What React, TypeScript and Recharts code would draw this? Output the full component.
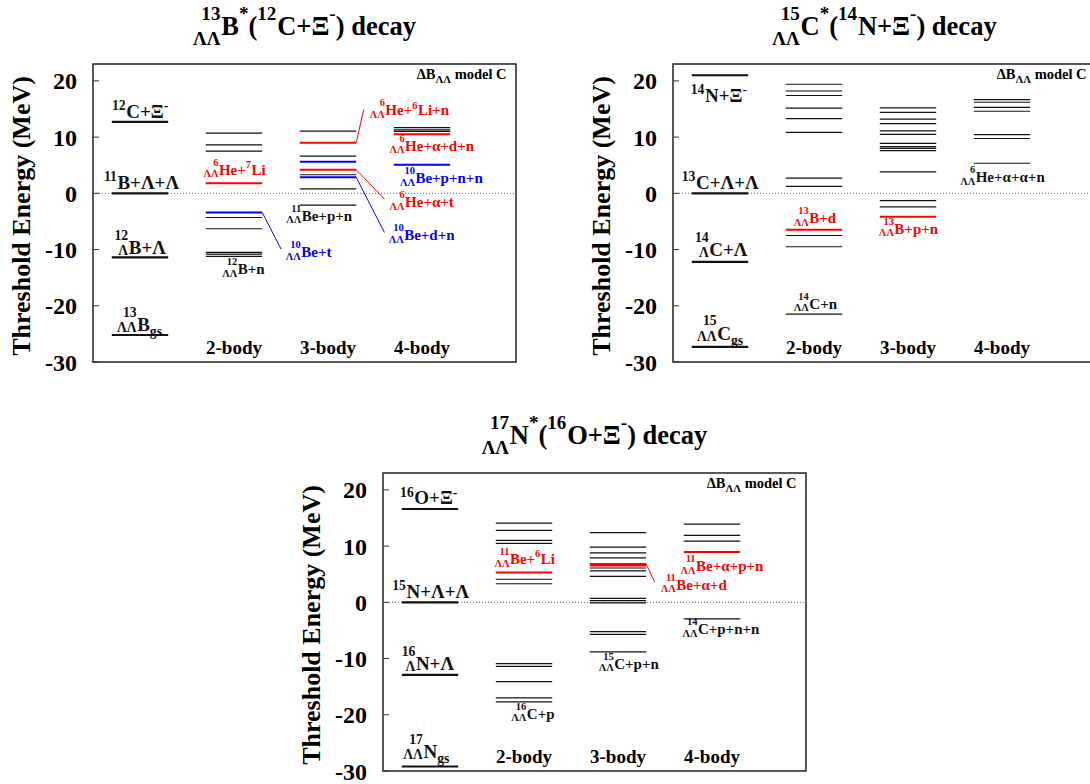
import React from "react";
import { ComposedChart, XAxis, YAxis, Scatter, ReferenceLine, ReferenceArea, ReferenceDot } from "recharts";

const FONT = '"Liberation Serif", "Times New Roman", Times, serif';
const TONE: Record<string, string> = { k: "#111111", r: "#ff0000", b: "#0000ff" };

const COLUMNS = ["2-body", "3-body", "4-body"];
const Y_TICKS = [-30, -20, -10, 0, 10, 20];
const Y_DOMAIN = [-30, 23];
const X_DOMAIN = [0, 4.5];
const Y_TITLE = "Threshold Energy (MeV)";
const MODEL_NOTE = "ΔB_{ΛΛ} model C";

// 13ΛΛB* (12C + Ξ-)
const B_TITLE = "[13|ΛΛ]B^{*}([12|]C+Ξ^{-}) decay";
const B_THRESH = [12.7, 0, -11.4, -25.2];
const B_TWO_K = [10.7, 8.6, 7.5, -4.3, -6.3, -10.5, -10.8, -11.2];
const B_TWO_R = [1.8];
const B_TWO_B = [-3.4];
const B_THREE_K = [11.05, 6.6, 3.3, 0.8, -2.1];
const B_THREE_R = [9.0, 4.2];
const B_THREE_B = [5.6, 2.85];
const B_FOUR_K = [11.7, 11.3, 11.0];
const B_FOUR_R = [10.5];
const B_FOUR_B = [5.1];
const B_THRESH_LABELS = [
  ["[12|]C+Ξ^{-}", 0.354, 13.4],
  ["[11|]B+Λ+Λ", 0.26, 0.8],
  ["[12|Λ]B+Λ", 0.38, -10.8],
  ["[13|ΛΛ]B_{gs}", 0.47, -24.5],
];
const B_LABELS = [
  ["[6|ΛΛ]He+[7|]Li", 1.34, 3.3, "r"],
  ["[12|ΛΛ]B+n", 1.54, -14.4, "k"],
  ["[10|ΛΛ]Be+t", 2.216, -11.4, "b"],
  ["[11|ΛΛ]Be+p+n", 2.22, -4.9, "k"],
  ["[6|ΛΛ]He+[6|]Li+n", 3.11, 13.85, "r"],
  ["[6|ΛΛ]He+α+d+n", 3.32, 7.6, "r"],
  ["[10|ΛΛ]Be+p+n+n", 3.43, 1.8, "b"],
  ["[6|ΛΛ]He+α+t", 3.32, -2.5, "r"],
  ["[10|ΛΛ]Be+d+n", 3.31, -8.3, "b"],
];
const B_LINKS = [
  [1.8, B_TWO_B[0], 2.0, -9.9, "b"],
  [2.8, B_THREE_R[0], 2.88, 14.9, "r"],
  [2.8, B_THREE_R[1], 3.1, -1.0, "r"],
  [2.8, B_THREE_B[1], 3.1, -6.95, "b"],
];

// 15ΛΛC* (14N + Ξ-)
const C_TITLE = "[15|ΛΛ]C^{*}([14|]N+Ξ^{-}) decay";
const C_THRESH = [21.0, 0, -12.2, -27.3];
const C_TWO_K = [19.4, 18.2, 17.4, 15.15, 13.3, 10.85, 2.7, 1.25, -7.5, -9.5, -21.5];
const C_TWO_R = [-6.5];
const C_THREE_K = [15.2, 14.4, 13.2, 12.4, 11.1, 10.5, 8.9, 8.3, 8.0, 7.6, 3.8, -1.3, -2.4];
const C_THREE_R = [-4.15];
const C_FOUR_K = [16.65, 16.2, 15.3, 14.6, 10.45, 9.75, 5.35];
const C_THRESH_LABELS = [
  ["[14|]N+Ξ^{-}", 0.34, 16.3],
  ["[13|]C+Λ+Λ", 0.245, 0.8],
  ["[14|Λ]C+Λ", 0.386, -11.1],
  ["[15|ΛΛ]C_{gs}", 0.47, -26.0],
];
const C_LABELS = [
  ["[13|ΛΛ]B+d", 1.45, -5.3, "r"],
  ["[14|ΛΛ]C+n", 1.45, -20.5, "k"],
  ["[13|ΛΛ]B+p+n", 2.355, -7.2, "r"],
  ["[6|ΛΛ]He+α+α+n", 3.22, 1.95, "k"],
];

// 17ΛΛN* (16O + Ξ-)
const N_TITLE = "[17|ΛΛ]N^{*}([16|]O+Ξ^{-}) decay";
const N_THRESH = [16.6, 0, -12.9, -29.2];
const N_TWO_K = [14.1, 12.8, 11.0, 10.5, 4.1, 3.3, -10.9, -11.4, -14.1, -17.0, -17.7];
const N_TWO_R = [5.3];
const N_THREE_K = [12.4, 9.8, 8.8, 7.9, 6.1, 5.6, 4.6, 0.7, 0.3, -0.1, -5.2, -5.7, -8.8];
const N_THREE_R = [6.8, 6.55];
const N_FOUR_K = [13.9, 11.9, 10.9, -2.95];
const N_FOUR_R = [8.95];
const N_THRESH_LABELS = [
  ["[16|]O+Ξ^{-}", 0.333, 17.4],
  ["[15|]N+Λ+Λ", 0.25, 0.77],
  ["[16|Λ]N+Λ", 0.35, -12.0],
  ["[17|ΛΛ]N_{gs}", 0.43, -27.7],
];
const N_LABELS = [
  ["[11|ΛΛ]Be+[6|]Li", 1.35, 6.8, "r"],
  ["[16|ΛΛ]C+p", 1.53, -20.7, "k"],
  ["[15|ΛΛ]C+p+n", 2.46, -11.8, "k"],
  ["[11|ΛΛ]Be+α+d", 3.12, 2.25, "r"],
  ["[11|ΛΛ]Be+α+p+n", 3.33, 5.5, "r"],
  ["[14|ΛΛ]C+p+n+n", 3.35, -5.7, "k"],
];
const N_LINKS = [[2.8, N_THREE_R[0], 2.89, 3.6, "r"]];

let measureCtx: CanvasRenderingContext2D | null = null;
function textWidth(s: string, size: number) {
  if (!measureCtx) measureCtx = document.createElement("canvas").getContext("2d");
  if (!measureCtx) return s.length * size * 0.5;
  measureCtx.font = `bold ${size}px ${FONT}`;
  return measureCtx.measureText(s).width;
}

// [sup|sub] = prescripts, ^{..} = superscript, _{..} = subscript
function parse(m: string) {
  const out: any[] = [];
  let buf = "";
  let i = 0;
  const flush = () => {
    if (buf) out.push({ kind: "text", a: buf });
    buf = "";
  };
  while (i < m.length) {
    const c = m[i];
    if (c === "[") {
      flush();
      const j = m.indexOf("]", i);
      const [a, b] = m.slice(i + 1, j).split("|");
      out.push({ kind: "pre", a, b });
      i = j + 1;
    } else if ((c === "^" || c === "_") && m[i + 1] === "{") {
      flush();
      const j = m.indexOf("}", i);
      out.push({ kind: c === "^" ? "sup" : "sub", a: m.slice(i + 2, j) });
      i = j + 1;
    } else {
      buf += c;
      i++;
    }
  }
  flush();
  return out;
}

const SMALL = { sc: 0.7, hi: 0.6, lone: 0.45, lo: 0.17 };
const BIG = { sc: 0.72, hi: 0.74, lone: 0.4, lo: 0.06 };
const TITLE = { sc: 0.72, hi: 0.56, lone: 0.56, lo: 0.36 };

function RichText({ x, y, markup, size, color, align = "main", st = SMALL }: any) {
  const s = size * st.sc;
  const items: any[] = [];
  let cur = 0;
  let lead: number | null = null;
  for (const p of parse(markup)) {
    if (p.kind === "text") {
      if (lead === null) lead = cur;
      items.push({ t: p.a, x: cur, dy: 0, fs: size });
      cur += textWidth(p.a, size);
    } else if (p.kind === "pre") {
      const wa = p.a ? textWidth(p.a, s) : 0;
      const wb = p.b ? textWidth(p.b, s) : 0;
      const w = Math.max(wa, wb);
      if (p.a) items.push({ t: p.a, x: cur + w - wa, dy: -(p.b ? st.hi : st.lone) * size, fs: s });
      if (p.b) items.push({ t: p.b, x: cur + w - wb, dy: st.lo * size, fs: s });
      cur += w + 0.03 * size;
    } else {
      items.push({ t: p.a, x: cur, dy: (p.kind === "sup" ? -st.lone : 0.28) * size, fs: s });
      cur += textWidth(p.a, s);
    }
  }
  const shift = align === "middle" ? -cur / 2 : align === "end" ? -cur : -(lead ?? 0);
  return (
    <g>
      {items.map((it, k) => (
        <text
          key={k}
          x={x + shift + it.x}
          y={y + it.dy}
          fontSize={it.fs}
          fontWeight="bold"
          fontFamily={FONT}
          fill={color}
          style={{ whiteSpace: "pre" }}
        >
          {it.t}
        </text>
      ))}
    </g>
  );
}

const W = 545;
const H = 380;
const PLOT_LEFT = 93;

function Panel({ left, top, title, thresholds, thresholdLabels, groups, labels, links }: any) {
  const segs: any[] = [];
  thresholds.forEach((v: number, i: number) =>
    segs.push({ key: `t${i}`, col: 0, v, color: TONE.k, w: 2.2 })
  );
  groups.forEach(([col, values, tone]: any, g: number) =>
    values.forEach((v: number, i: number) =>
      segs.push({ key: `g${g}-${i}`, col, v, color: TONE[tone], w: tone === "k" ? 1.2 : 2 })
    )
  );
  // level centres as the chart's data table (markers are invisible; the bars are drawn as segments)
  const points = segs.map((s) => ({ x: s.col + 0.5, y: s.v }));
  const texts: any[] = [
    ...thresholdLabels.map(([m, x, y]: any) => ({ m, x, y, color: TONE.k, size: 19, st: BIG })),
    ...labels.map(([m, x, y, tone]: any) => ({ m, x, y, color: TONE[tone], size: 15, st: SMALL })),
    ...COLUMNS.map((c, i) => ({ m: c, x: i + 1.5, y: -28.5, color: "#000", size: 19, align: "middle" })),
    { m: MODEL_NOTE, x: 4.4, y: 20.3, color: "#000", size: 14.5, align: "end", st: { ...SMALL, sc: 0.75 } },
  ];
  return (
    <div style={{ position: "absolute", left, top, width: W, height: H }}>
      <ComposedChart
        width={W}
        height={H}
        data={points}
        margin={{ top: 64, right: 28, bottom: 18, left: 0 }}
      >
        <XAxis type="number" dataKey="x" domain={X_DOMAIN} allowDataOverflow hide />
        <YAxis
          yAxisId="l"
          type="number"
          dataKey="y"
          domain={Y_DOMAIN}
          allowDataOverflow
          ticks={Y_TICKS}
          interval={0}
          width={PLOT_LEFT}
          axisLine={false}
          tickSize={-6}
          tickMargin={22}
          tickLine={{ stroke: "#333" }}
          tick={{ fontSize: 24, fontWeight: "bold", fill: "#000", fontFamily: FONT }}
        />
        <YAxis
          yAxisId="r"
          orientation="right"
          type="number"
          domain={Y_DOMAIN}
          allowDataOverflow
          ticks={Y_TICKS}
          interval={0}
          width={1}
          axisLine={false}
          tick={false}
          tickSize={-6}
          tickLine={{ stroke: "#333" }}
        />
        <Scatter yAxisId="l" dataKey="y" isAnimationActive={false} shape={() => <g />} />
        <ReferenceLine yAxisId="l" y={0} stroke="#666" strokeDasharray="1 2" />
        {segs.map((s) => (
          <ReferenceLine
            key={s.key}
            yAxisId="l"
            segment={[
              { x: s.col + 0.2, y: s.v },
              { x: s.col + 0.8, y: s.v },
            ]}
            stroke={s.color}
            strokeWidth={s.w}
          />
        ))}
        {links.map(([x1, y1, x2, y2, tone]: any, i: number) => (
          <ReferenceLine
            key={`l${i}`}
            yAxisId="l"
            segment={[
              { x: x1, y: y1 },
              { x: x2, y: y2 },
            ]}
            stroke={TONE[tone]}
            strokeWidth={1}
          />
        ))}
        {texts.map((t, i) => (
          <ReferenceDot
            key={`d${i}`}
            yAxisId="l"
            x={t.x}
            y={t.y}
            r={0}
            ifOverflow="visible"
            shape={(p: any) => (
              <RichText
                x={p.cx}
                y={p.cy}
                markup={t.m}
                size={t.size}
                color={t.color}
                align={t.align || "main"}
                st={t.st || SMALL}
              />
            )}
          />
        ))}
        <ReferenceArea yAxisId="l" x1={0} x2={4.5} y1={-30} y2={23} fill="none" stroke="#222" strokeWidth={1.5} />
      </ComposedChart>
      <svg width={W} height={H} style={{ position: "absolute", left: 0, top: 0, pointerEvents: "none" }}>
        <RichText x={PLOT_LEFT + 211.5} y={35} markup={title} size={26.5} color="#000" align="middle" st={TITLE} />
        <text
          x={30}
          y={216}
          transform="rotate(-90 30 216)"
          textAnchor="middle"
          fontSize={26}
          fontWeight="bold"
          fontFamily={FONT}
          fill="#000"
        >
          {Y_TITLE}
        </text>
      </svg>
    </div>
  );
}

export default function App() {
  return (
    <div
      style={{
        position: "fixed",
        left: 0,
        top: 0,
        width: 1090,
        height: 784,
        overflow: "hidden",
        background: "#fff",
      }}
    >
      <Panel
        left={0}
        top={0}
        title={B_TITLE}
        thresholds={B_THRESH}
        thresholdLabels={B_THRESH_LABELS}
        groups={[
          [1, B_TWO_K, "k"],
          [1, B_TWO_R, "r"],
          [1, B_TWO_B, "b"],
          [2, B_THREE_K, "k"],
          [2, B_THREE_R, "r"],
          [2, B_THREE_B, "b"],
          [3, B_FOUR_K, "k"],
          [3, B_FOUR_R, "r"],
          [3, B_FOUR_B, "b"],
        ]}
        labels={B_LABELS}
        links={B_LINKS}
      />
      <Panel
        left={580}
        top={0}
        title={C_TITLE}
        thresholds={C_THRESH}
        thresholdLabels={C_THRESH_LABELS}
        groups={[
          [1, C_TWO_K, "k"],
          [1, C_TWO_R, "r"],
          [2, C_THREE_K, "k"],
          [2, C_THREE_R, "r"],
          [3, C_FOUR_K, "k"],
        ]}
        labels={C_LABELS}
        links={[]}
      />
      <Panel
        left={290}
        top={409}
        title={N_TITLE}
        thresholds={N_THRESH}
        thresholdLabels={N_THRESH_LABELS}
        groups={[
          [1, N_TWO_K, "k"],
          [1, N_TWO_R, "r"],
          [2, N_THREE_K, "k"],
          [2, N_THREE_R, "r"],
          [3, N_FOUR_K, "k"],
          [3, N_FOUR_R, "r"],
        ]}
        labels={N_LABELS}
        links={N_LINKS}
      />
    </div>
  );
}
